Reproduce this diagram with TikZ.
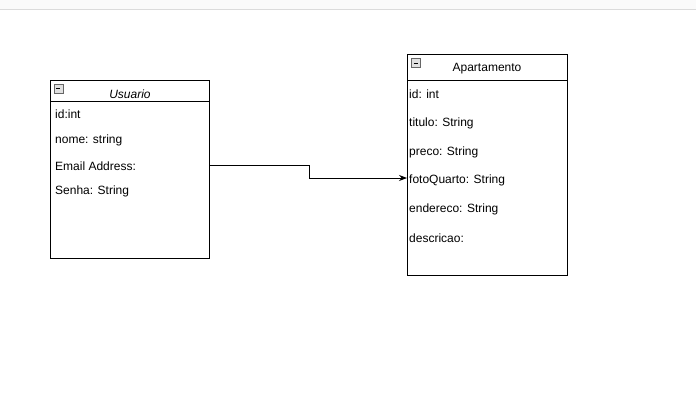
\documentclass[tikz,border=0pt]{standalone}
\usepackage{fontspec}
\setmainfont{Liberation Sans}
\usetikzlibrary{positioning, arrows.meta, calc}

\begin{document}
\begin{tikzpicture}[
    x=1pt, y=-1pt,
    every node/.style = {font=\fontsize{12}{14}\selectfont},
    classbox/.style = {draw, line width=0.8pt, inner sep=0pt},
    attr/.style = {anchor=west, inner sep=0pt, yshift=-1.5pt},
    toggle/.style = {draw=black!60, fill=black!12, line width=0.6pt, minimum size=9pt, inner sep=0pt},
    arr/.style = {-{Stealth[length=8pt,width=6pt]}, line width=0.8pt}
]
\useasboundingbox (0,0) rectangle (696,405);
\fill[black!2] (0,0) rectangle (696,9);
\draw[black!14] (0,9) -- (696,9);

% Usuario
\node[classbox, minimum width=159pt, minimum height=178pt] (usuario) at (129.5,169) {};
\draw[line width=0.8pt] (50,101) -- (209,101);
\node[toggle] (tog1) at (58.5,88.5) {};
\draw (tog1.west) ++(2.5,0) -- ++(4,0);
\node[inner sep=0pt, yshift=-1.5pt, font=\fontsize{12}{14}\selectfont\itshape] (usuarioname) at (130,93) {Usuario};
\node[attr] (uid) at (55,113) {id:int};
\node[attr] (nome) at (55,139) {nome: string};
\node[attr] (email) at (55,165) {Email Address:};
\node[attr] (senha) at (55,190) {Senha: String};

% Apartamento
\node[classbox, minimum width=160pt, minimum height=221pt] (apto) at (487,164.5) {};
\draw[line width=0.8pt] (407,80) -- (567,80);
\node[toggle] (tog2) at (416,63) {};
\draw (tog2.west) ++(2.5,0) -- ++(4,0);
\node[inner sep=0pt, yshift=-1.5pt] (aptoname) at (487,67) {Apartamento};
\node[attr] (aid) at (409,93) {id: int};
\node[attr] (titulo) at (409,122) {titulo: String};
\node[attr] (preco) at (409,151) {preco: String};
\node[attr] (fotoq) at (409,179) {fotoQuarto: String};
\node[attr] (endereco) at (409,208) {endereco: String};
\node[attr] (descricao) at (409,237) {descricao:};

% relation
\coordinate (bend) at (309,165);
\coordinate (target) at (407,178);
\draw[arr] (usuario.east |- bend) -- (bend) |- (target);

\end{tikzpicture}
\end{document}
